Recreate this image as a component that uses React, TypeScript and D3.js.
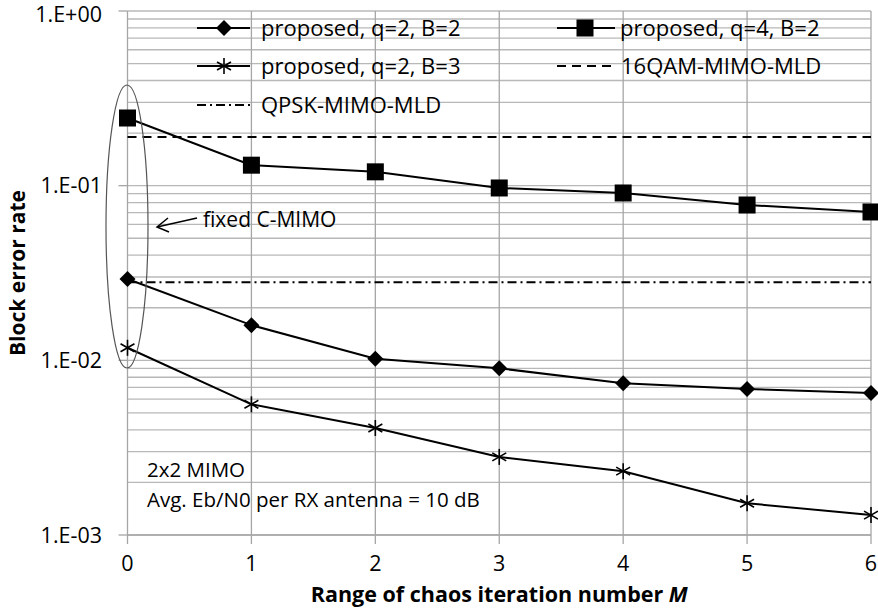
import React from 'react';
import * as d3 from 'd3';

// chaos iteration range M
const iterations = [0, 1, 2, 3, 4, 5, 6];
// block error rate
const q2b2 = [0.0292, 0.0159, 0.0102, 0.0090, 0.0074, 0.00685, 0.0065];
const q4b2 = [0.244, 0.131, 0.120, 0.097, 0.0908, 0.0775, 0.0707];
const q2b3 = [0.0118, 0.0056, 0.0041, 0.0028, 0.00232, 0.00152, 0.0013];
const qam16Mld = 0.19;
const qpskMld = 0.028;
const yTickLabels = ['1.E+00', '1.E-01', '1.E-02', '1.E-03'];
const yTickValues = [1, 0.1, 0.01, 0.001];

const W = 878;
const H = 613;
const FONT = '"Open Sans", sans-serif';

const x = d3.scaleLinear().domain([0, 6]).range([127.5, 871]);
const y = d3.scaleLog().domain([0.001, 1]).range([535, 11]);

const line = d3
  .line<number>()
  .x((d, i) => x(iterations[i]))
  .y((d) => y(d));

const diamond = (cx: number, cy: number, r = 8) =>
  `M${cx},${cy - r}L${cx + r},${cy}L${cx},${cy + r}L${cx - r},${cy}Z`;

const Star = ({ cx, cy }: { cx: number; cy: number }) => {
  const r = 8;
  return (
    <g stroke="#000" strokeWidth={1.6}>
      <line x1={cx} y1={cy - r} x2={cx} y2={cy + r} />
      <line x1={cx - r * 0.87} y1={cy - r / 2} x2={cx + r * 0.87} y2={cy + r / 2} />
      <line x1={cx - r * 0.87} y1={cy + r / 2} x2={cx + r * 0.87} y2={cy - r / 2} />
    </g>
  );
};

const Square = ({ cx, cy }: { cx: number; cy: number }) => (
  <rect x={cx - 8.5} y={cy - 8.5} width={17} height={17} fill="#000" />
);

const QAM_DASH = '9 6';
const QPSK_DASH = '9 4 2 4';

const App = () => {
  const gridY = y.ticks();
  const [x0, x1] = x.range();
  const [yb, yt] = y.range();

  return (
    <svg width={W} height={H} style={{ position: 'absolute', left: 0, top: 0, background: '#fff' }} fontFamily={FONT}>
      {/* horizontal grid */}
      {gridY.map((v, i) => (
        <line key={'h' + i} x1={x0} x2={x1} y1={y(v)} y2={y(v)} stroke="#b8b8b8" strokeWidth={1.3} />
      ))}
      {/* vertical grid + x ticks */}
      {iterations.map((m) => (
        <line key={'v' + m} x1={x(m)} x2={x(m)} y1={yt} y2={yb + 9} stroke="#a6a6a6" strokeWidth={1.3} />
      ))}
      {/* y axis ticks */}
      {yTickValues.map((v) => (
        <line key={'t' + v} x1={x0 - 9} x2={x0} y1={y(v)} y2={y(v)} stroke="#a6a6a6" strokeWidth={1.3} />
      ))}
      <line x1={x0} x2={x1} y1={yb} y2={yb} stroke="#a6a6a6" strokeWidth={1.3} />

      {/* tick labels (top one nudged down so it stays inside the page) */}
      {yTickValues.map((v, i) => (
        <text key={'yl' + i} x={102} y={y(v) + (i === 0 ? 3 : 0)} dy="0.36em" textAnchor="end" fontSize={21.5} fill="#000">
          {yTickLabels[i]}
        </text>
      ))}
      {iterations.map((m) => (
        <text key={'xl' + m} x={x(m)} y={571} textAnchor="middle" fontSize={21.5} fill="#000">
          {m}
        </text>
      ))}

      {/* axis titles */}
      <text
        transform={`translate(25,${(yt + yb) / 2}) rotate(-90)`}
        textAnchor="middle"
        fontSize={21}
        fontWeight="bold"
      >
        Block error rate
      </text>
      <text x={(x0 + x1) / 2} y={602} textAnchor="middle" fontSize={21.5} fontWeight="bold">
        Range of chaos iteration number <tspan fontStyle="italic">M</tspan>
      </text>

      {/* reference lines */}
      <line x1={x0} x2={x1} y1={y(qam16Mld)} y2={y(qam16Mld)} stroke="#000" strokeWidth={2} strokeDasharray={QAM_DASH} />
      <line x1={x0} x2={x1} y1={y(qpskMld)} y2={y(qpskMld)} stroke="#000" strokeWidth={2} strokeDasharray={QPSK_DASH} />

      {/* series */}
      <path d={line(q4b2) || ''} fill="none" stroke="#000" strokeWidth={2} />
      <path d={line(q2b2) || ''} fill="none" stroke="#000" strokeWidth={2} />
      <path d={line(q2b3) || ''} fill="none" stroke="#000" strokeWidth={2} />
      {q4b2.map((v, i) => (
        <Square key={'s' + i} cx={x(iterations[i])} cy={y(v)} />
      ))}
      {q2b2.map((v, i) => (
        <path key={'d' + i} d={diamond(x(iterations[i]), y(v))} fill="#000" />
      ))}
      {q2b3.map((v, i) => (
        <Star key={'a' + i} cx={x(iterations[i])} cy={y(v)} />
      ))}

      {/* fixed C-MIMO annotation */}
      <ellipse cx={127} cy={226.5} rx={21} ry={141.5} fill="none" stroke="#555" strokeWidth={1.2} />
      <g stroke="#000" strokeWidth={1.5} fill="none">
        <line x1={197} y1={218} x2={157} y2={227} />
        <polyline points="168,218 157,227 169,232" />
      </g>
      <text x={203} y={227} fontSize={21}>fixed C-MIMO</text>

      <text x={147} y={477} fontSize={20.5}>2x2 MIMO</text>
      <text x={147} y={507} fontSize={20.5}>Avg. Eb/N0 per RX antenna = 10 dB</text>

      {/* legend */}
      <g fontSize={22}>
        <line x1={197} x2={250} y1={28} y2={28} stroke="#000" strokeWidth={2} />
        <path d={diamond(224, 28)} fill="#000" />
        <text x={261} y={28} dy="0.36em">proposed, q=2, B=2</text>

        <line x1={557} x2={615} y1={28} y2={28} stroke="#000" strokeWidth={2} />
        <Square cx={585} cy={28} />
        <text x={620} y={28} dy="0.36em">proposed, q=4, B=2</text>

        <line x1={197} x2={250} y1={66} y2={66} stroke="#000" strokeWidth={2} />
        <Star cx={224} cy={66} />
        <text x={261} y={66} dy="0.36em">proposed, q=2, B=3</text>

        <line x1={557} x2={615} y1={66} y2={66} stroke="#000" strokeWidth={2} strokeDasharray={QAM_DASH} />
        <text x={621} y={66} dy="0.36em">16QAM-MIMO-MLD</text>

        <line x1={197} x2={250} y1={105} y2={105} stroke="#000" strokeWidth={2} strokeDasharray={QPSK_DASH} />
        <text x={261} y={105} dy="0.36em">QPSK-MIMO-MLD</text>
      </g>
    </svg>
  );
};

export default App;
